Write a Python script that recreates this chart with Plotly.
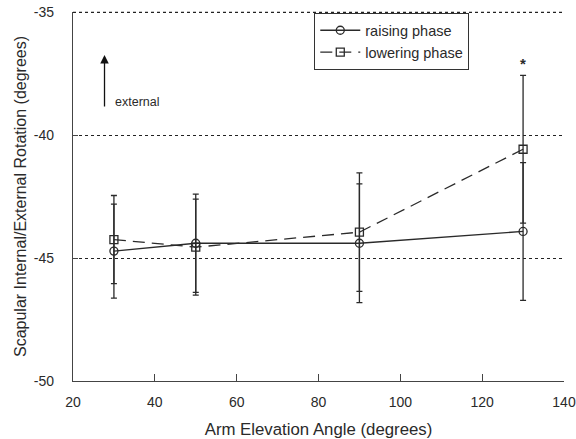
import plotly.graph_objects as go

angles = [30, 50, 90, 130]
raising_mean = [-44.72, -44.40, -44.40, -43.92]
raising_sd = [1.91, 2.0, 2.41, 2.80]
lowering_mean = [-44.25, -44.56, -43.95, -40.58]
lowering_sd = [1.79, 1.95, 2.41, 3.0]

x_ticks = [20, 40, 60, 80, 100, 120, 140]
y_ticks = [-50, -45, -40, -35]
y_ticktext = ["-50", "-45", "-40", "-35"]

ink = "#2a2a2a"
font_family = "Liberation Sans, Arial, sans-serif"

fig = go.Figure()
fig.add_trace(go.Scatter(
    x=angles, y=raising_mean, name="raising phase", mode="lines+markers",
    line=dict(color=ink, width=1.3),
    marker=dict(symbol="circle-open", size=8, color=ink, line=dict(width=1.3)),
    error_y=dict(type="data", array=raising_sd, visible=True, color=ink, thickness=1.3, width=3),
))
fig.add_trace(go.Scatter(
    x=angles, y=lowering_mean, name="lowering phase", mode="lines+markers",
    line=dict(color=ink, width=1.3, dash="12px,7px"),
    marker=dict(symbol="square-open", size=8, color=ink, line=dict(width=1.3)),
    error_y=dict(type="data", array=lowering_sd, visible=True, color=ink, thickness=1.3, width=3),
))

# top dotted reference line at -35
fig.add_shape(type="line", xref="paper", yref="paper", x0=0, x1=1, y0=0.999, y1=0.999,
              line=dict(color="#222", width=1.2, dash="dot"))

fig.add_annotation(x=27.7, y=-36.75, ax=27.7, ay=-38.9, xref="x", yref="y", axref="x", ayref="y",
                   showarrow=True, arrowhead=2, arrowsize=1.3, arrowwidth=1.3, arrowcolor="#111", text="")
fig.add_annotation(x=29.7, y=-38.66, xref="x", yref="y", text="external", showarrow=False,
                   xanchor="left", yanchor="middle", font=dict(size=12.5, color=ink))
fig.add_annotation(x=130, y=-37.5, xref="x", yref="y", text="<b>*</b>", showarrow=False,
                   xanchor="center", yanchor="bottom", font=dict(size=15, color=ink))

fig.update_layout(
    width=576, height=439,
    margin=dict(l=73, r=12, t=12, b=58, autoexpand=False),
    paper_bgcolor="white", plot_bgcolor="white",
    font=dict(family=font_family, color=ink, size=14),
    showlegend=True,
    legend=dict(x=0.491, y=0.997, xanchor="left", yanchor="top",
                bordercolor="#333", borderwidth=1.2, bgcolor="white",
                font=dict(size=14.5), tracegroupgap=0, itemwidth=40),
    xaxis=dict(range=[20, 140], tickvals=x_ticks, ticks="inside", ticklen=7, tickcolor="#444",
               showline=True, linecolor="#444", linewidth=1.3, showgrid=False, zeroline=False,
               ticklabelstandoff=8, automargin=False,
               title=dict(text="Arm Elevation Angle (degrees)", font=dict(size=16.8), standoff=14),
               tickfont=dict(size=14)),
    yaxis=dict(range=[-50, -35], tickvals=y_ticks, ticktext=y_ticktext, ticks="inside", ticklen=5,
               tickcolor="#444", showline=True, linecolor="#444",
               linewidth=1.3, showgrid=True, gridcolor="#222", griddash="dot", gridwidth=1.2,
               zeroline=False, ticklabelstandoff=15, automargin=False,
               title=dict(text="Scapular Internal/External Rotation (degrees)", font=dict(size=16), standoff=3),
               tickfont=dict(size=14)),
)

fig.write_html("out.html", config={"displayModeBar": False},
               post_script="document.body.style.margin='0';")
